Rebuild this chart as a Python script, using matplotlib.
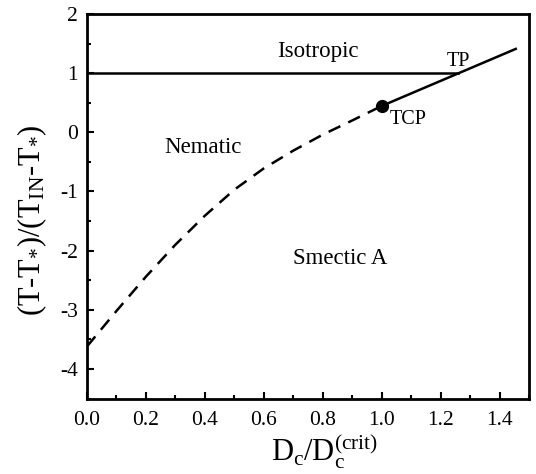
import matplotlib
matplotlib.use("Agg")
import matplotlib.pyplot as plt
from matplotlib.ticker import MultipleLocator
import numpy as np

plt.rcParams['font.family'] = ['Liberation Serif', 'DejaVu Serif']
plt.rcParams['mathtext.default'] = 'regular'

# dashed (second order) N-SmA line, up to the tricritical point
dash_x = [0.0, 0.1, 0.2, 0.3, 0.4, 0.5, 0.6, 0.7, 0.8, 0.9, 1.0]
dash_y = [-3.62, -3.02, -2.44, -1.90, -1.41, -0.97, -0.61, -0.31, -0.04, 0.20, 0.445]

# solid first order line from TCP past the triple point
solid_x = [1.0, 1.455]
solid_y = [0.445, 1.41]

# isotropic-nematic line
iso_x = [0.0, 1.26]
iso_y = [1.0, 1.0]

tcp = (1.0, 0.445)

big_labels = ['Isotropic', 'Nematic', 'Smectic A']
big_pos = [(0.784, 1.36), (0.392, -0.25), (0.86, -2.13)]
small_labels = ['TP', 'TCP']
small_pos = [(1.262, 1.20), (1.09, 0.22)]

fig = plt.figure(figsize=(5.36, 4.74), dpi=100)
ax = fig.add_axes([87 / 536, 1 - 398.5 / 474, 442 / 536, 384.5 / 474])

ax.plot(dash_x, dash_y, color='black', lw=1.8, ls=(0, (5.2, 3.5)))
ax.plot(solid_x, solid_y, '-', color='black', lw=1.8)
ax.plot(iso_x, iso_y, '-', color='black', lw=1.8)
ax.plot([tcp[0]], [tcp[1]], 'o', color='black', ms=8.5)

for lab, (x, y) in zip(big_labels, big_pos):
    ax.text(x, y, lab, fontsize=16.5, ha='center', va='center')
for lab, (x, y) in zip(small_labels, small_pos):
    ax.text(x, y, lab, fontsize=14.5, ha='center', va='center')

ax.set_xlim(0, 1.5)
ax.set_ylim(-4.5, 2)
ax.xaxis.set_minor_locator(MultipleLocator(0.1))
ax.yaxis.set_minor_locator(MultipleLocator(0.5))
xt = np.arange(0, 1.41, 0.2)
ax.set_xticks(xt)
ax.set_xticklabels(['%.1f' % v for v in xt])
ax.set_yticks([-4, -3, -2, -1, 0, 1, 2])
ax.set_yticklabels(['-4', '-3', '-2', '-1', '0', '1', '2'])

ax.tick_params(which='both', direction='in', top=False, right=False, width=1.5, labelsize=15.5)
ax.tick_params(which='major', length=5)
ax.tick_params(which='minor', length=3)
ax.tick_params(axis='x', pad=9)
ax.tick_params(axis='y', pad=6.5)
for s in ax.spines.values():
    s.set_linewidth(2)

ax.set_xlabel(r'D$_c$/D$_c^{(crit)}$', fontsize=22)
ax.xaxis.set_label_coords(0.537, -0.085)
ax.set_ylabel(r'(T-T$_{*}$)/(T$_{IN}$-T$_{*}$)', fontsize=22)
ax.yaxis.set_label_coords(-0.085, 0.464)

fig.savefig('out.png', dpi=100)
